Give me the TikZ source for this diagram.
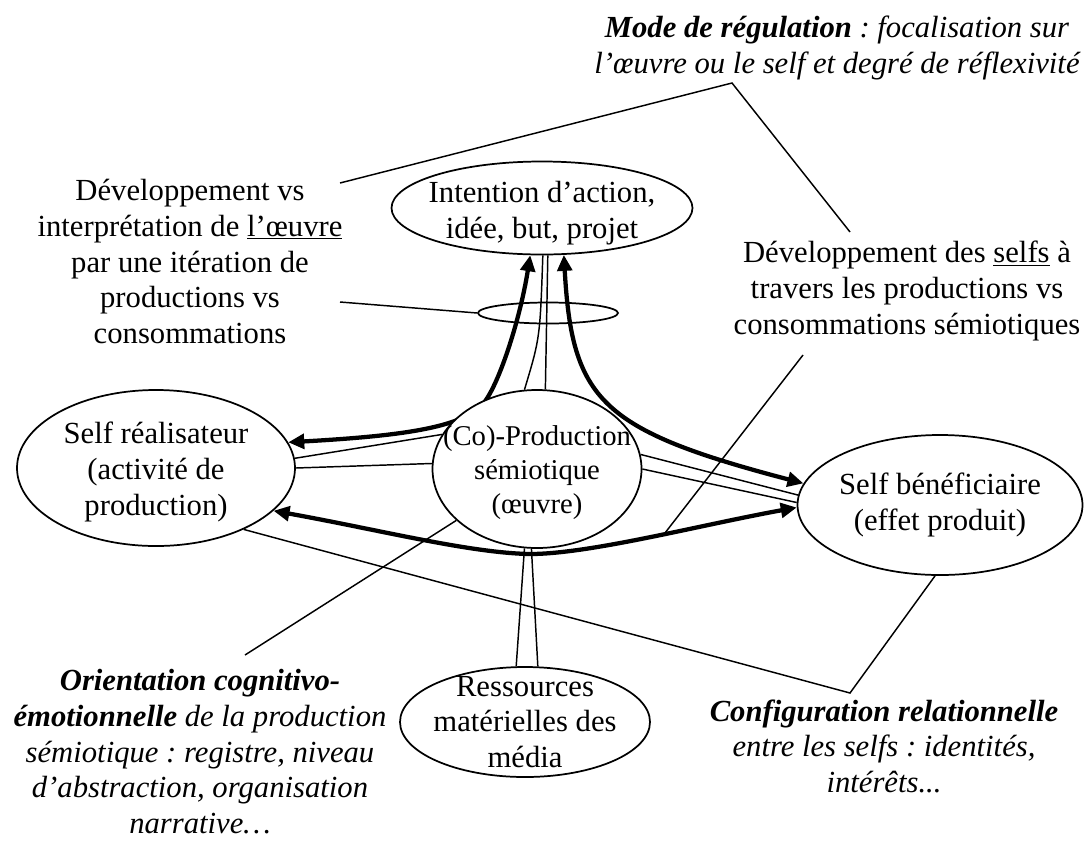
\documentclass[tikz,border=0pt]{standalone}
\usepackage{fontspec}
\setmainfont{Liberation Serif}
\usetikzlibrary{arrows.meta}
\usetikzlibrary{shapes.geometric}
\usetikzlibrary{backgrounds}
\tikzset{every picture/.style={semithick, >={Triangle[length=12pt,width=11pt]}}}
\newcommand{\diagfont}{\fontsize{23}{26.8}\selectfont\frenchspacing}
\tikzstyle{oval}=[draw,ellipse,fill=white,inner sep=0pt,line width=1.3pt]
\tikzstyle{txt}=[align=center,inner sep=0pt,font=\diagfont]
\tikzstyle{note}=[txt,font=\diagfont\itshape]
\tikzstyle{link}=[line width=1.1pt]
\tikzstyle{flow}=[line width=3.2pt,<->]

\begin{document}
\begin{tikzpicture}[x=0.75pt,y=-0.75pt]
        \useasboundingbox (0,0) rectangle (1087,843);
        % ellipses
        \node [oval,minimum width=225.75pt,minimum height=69.75pt] (intent) at (542,208) {};
        \node [oval,minimum width=156.75pt,minimum height=118.5pt] (prod) at (537,469) {};
        \node [oval,minimum width=208.5pt,minimum height=117pt] (real) at (156,468) {};
        \node [oval,minimum width=213.75pt,minimum height=105pt] (bene) at (940,505) {};
        \node [oval,minimum width=187.5pt,minimum height=82.5pt] (res) at (525,722) {};
        \node [oval,fill=none,minimum width=105pt,minimum height=15.75pt] (loop) at (548,313) {};
        \node [txt,yshift=-4pt] (intent-t) at (intent) {Intention d’action,\\idée, but, projet};
        \node [txt,yshift=-3pt,font=\fontsize{21.5}{25.5}\selectfont] (prod-t) at (prod) {(Co)-Production\\sémiotique\\(œuvre)};
        \node [txt,yshift=-3pt] (real-t) at (real) {Self réalisateur\\(activité de\\production)};
        \node [txt] (bene-t) at (bene) {Self bénéficiaire\\(effet produit)};
        \node [txt] (res-t) at (res) {Ressources\\matérielles des\\média};
        % annotations
        \node [note,anchor=north] (regul) at (837,16) {\textbf{Mode de régulation} : focalisation sur\\l’œuvre ou le self et degré de réflexivité};
        \node [txt,anchor=north] (oeuvre) at (190,179) {Développement vs\\interprétation de \underline{l’œuvre}\\par une itération de\\productions vs\\consommations};
        \node [txt,anchor=north] (selfs) at (907,241) {Développement des \underline{selfs} à\\travers les productions vs\\consommations sémiotiques};
        \node [note,anchor=north] (orient) at (200,669) {\textbf{Orientation cognitivo-}\\\textbf{émotionnelle} de la production\\sémiotique : registre, niveau\\d’abstraction, organisation\\narrative…};
        \node [note,anchor=north] (config) at (884,699) {\textbf{Configuration relationnelle}\\entre les selfs : identités,\\intérêts...};
        \coordinate (oeuvre-r) at (340,183);
        \coordinate (regul-v) at (732,83);
        \coordinate (selfs-t) at (850,232);
        \coordinate (loop-l) at (340,302);
        \coordinate (selfs-b) at (803,355);
        \coordinate (orient-t) at (245,655);
        \coordinate (config-t) at (850,693);
        \begin{scope}[on background layer]
        % thick double arrows
        \draw [flow] (real.11) .. controls (400,436) and (460,428) .. (482,405) .. controls (498,388) and (520,320) .. (intent.256);
        \draw [flow] (intent.295) .. controls (572,400) and (600,430) .. (bene.171);
        \draw [flow] (real.-20) .. controls (380,530) and (470,553) .. (530,554) .. controls (590,554) and (700,525) .. (bene.181) coordinate [pos=0.55] (low-hit);
        % thin pairs
        \draw [link] (prod.99) .. controls (540,338) .. (intent.271);
        \draw [link] (prod.84) -- (intent.277);
        \draw [link] (real.4) -- (prod.160);
        \draw [link] (real.0) -- (prod.177);
        \draw [link] (prod.8) -- (bene.176);
        \draw [link] (prod.0) -- (bene.179);
        \draw [link] (prod.261) -- (res.99);
        \draw [link] (prod.266) -- (res.77);
        % annotation lines
        \draw [link] (oeuvre-r) -- (regul-v) -- (selfs-t);
        \draw [link] (loop-l) -- (loop.west);
        \draw [link] (selfs-b) -- (low-hit);
        \draw [link] (orient-t) -- (prod);
        \draw [link] (bene.266) -- (config-t) -- (real.-35);
        \end{scope}
\end{tikzpicture}
\end{document}
